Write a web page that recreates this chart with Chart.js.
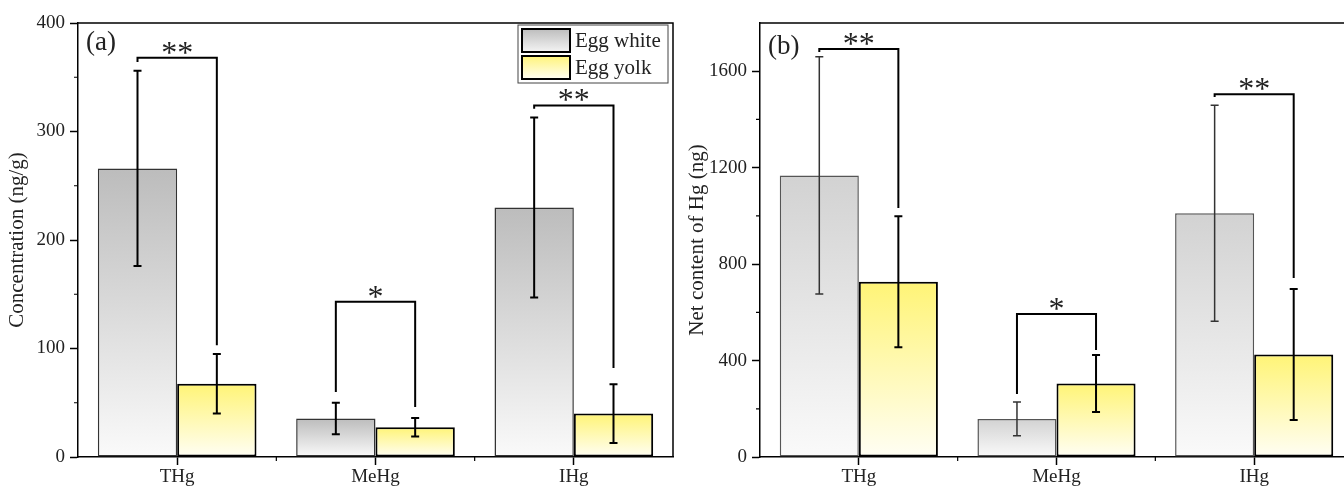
<!DOCTYPE html>
<html>
<head>
<meta charset="utf-8">
<script src="https://cdn.jsdelivr.net/npm/chart.js@4"></script>
<style>
html, body { margin: 0; padding: 0; background: #fff; overflow: hidden; width: 1344px; height: 489px; }
.panel { position: absolute; top: 0; width: 680px; height: 489px; }
#wrapA { left: 0; }
#wrapB { left: 680px; }
</style>
</head>
<body>
<div class="panel" id="wrapA"><canvas id="chartA" width="680" height="489"></canvas></div>
<div class="panel" id="wrapB"><canvas id="chartB" width="680" height="489"></canvas></div>
<script>
const categories = ["THg", "MeHg", "IHg"];
const seriesNames = ["Egg white", "Egg yolk"];
const stars = ["**", "*", "**"];

// (a) concentration, ng/g
const concWhite = [266, 35.5, 230];
const concWhiteErr = [90, 14.5, 83];
const concYolk = [67.5, 27.5, 40];
const concYolkErr = [27.5, 8.5, 27];
const concTicks = [0, 100, 200, 300, 400];
// significance brackets: bracket level, left leg end, right leg end
const concBracket = [368, 143, 324];
const concLegLeft = [364, 60, 321];
const concLegRight = [103, 46, 82];

// (b) net content, ng
const netWhite = [1168, 158, 1011];
const netWhiteErr = [492, 70, 448];
const netYolk = [727, 305, 425];
const netYolkErr = [272, 118, 272];
const netTicks = [0, 400, 800, 1200, 1600];
const netBracket = [1692, 593, 1505];
const netLegLeft = [1680, 261, 1493];
const netLegRight = [1033, 444, 742];

const SERIF = "'Liberation Serif', 'Times New Roman', serif";

function fade(topColor, bottomColor) {
    return ctx => {
        const chart = ctx.chart;
        if (!chart.chartArea || ctx.type !== "data") return topColor;
        const y = chart.scales.y;
        const y0 = y.getPixelForValue(ctx.raw);
        const y1 = y.getPixelForValue(0);
        const g = chart.ctx.createLinearGradient(0, y0, 0, y1);
        g.addColorStop(0, topColor);
        g.addColorStop(1, bottomColor);
        return g;
    };
}

const overlay = {
    id: "overlay",
    afterDatasetsDraw(chart, args, opts) {
        const c = chart.ctx, x = chart.scales.x, y = chart.scales.y, a = chart.chartArea;
        c.save();
        c.lineCap = "butt";

        // top and right frame
        c.strokeStyle = "#000";
        c.lineWidth = 1.5;
        c.beginPath();
        c.moveTo(a.left, a.top);
        c.lineTo(a.right, a.top);
        c.lineTo(a.right, a.bottom);
        c.stroke();

        // minor ticks
        c.lineWidth = 1.2;
        c.beginPath();
        for (let i = 0; i < opts.ticks.length - 1; i++) {
            const py = y.getPixelForValue((opts.ticks[i] + opts.ticks[i + 1]) / 2);
            c.moveTo(a.left - 4, py);
            c.lineTo(a.left, py);
        }
        for (let i = 0; i < categories.length - 1; i++) {
            const px = (x.getPixelForValue(i) + x.getPixelForValue(i + 1)) / 2;
            c.moveTo(px, a.bottom);
            c.lineTo(px, a.bottom + 4);
        }
        c.stroke();

        // error bars
        opts.errors.forEach((errs, di) => {
            const meta = chart.getDatasetMeta(di);
            const vals = chart.data.datasets[di].data;
            c.strokeStyle = opts.errColors[di];
            c.lineWidth = opts.errWidths[di];
            meta.data.forEach((bar, i) => {
                const hi = y.getPixelForValue(vals[i] + errs[i]);
                const lo = y.getPixelForValue(vals[i] - errs[i]);
                c.beginPath();
                c.moveTo(bar.x, hi); c.lineTo(bar.x, lo);
                c.moveTo(bar.x - 4, hi); c.lineTo(bar.x + 4, hi);
                c.moveTo(bar.x - 4, lo); c.lineTo(bar.x + 4, lo);
                c.stroke();
            });
        });

        // significance brackets
        const m0 = chart.getDatasetMeta(0), m1 = chart.getDatasetMeta(1);
        c.strokeStyle = "#000";
        c.lineWidth = 2;
        c.fillStyle = "#222";
        c.font = "32px " + SERIF;
        c.textAlign = "center";
        c.textBaseline = "alphabetic";
        opts.bracket.forEach((lvl, i) => {
            const xl = m0.data[i].x, xr = m1.data[i].x;
            const yb = y.getPixelForValue(lvl);
            c.beginPath();
            c.moveTo(xl, y.getPixelForValue(opts.legLeft[i]));
            c.lineTo(xl, yb);
            c.lineTo(xr, yb);
            c.lineTo(xr, y.getPixelForValue(opts.legRight[i]));
            c.stroke();
            const m = c.measureText(stars[i]);
            c.fillText(stars[i], (xl + xr) / 2, yb - 4 - m.actualBoundingBoxDescent);
        });

        // panel label
        c.font = "27px " + SERIF;
        c.textAlign = "left";
        c.textBaseline = "middle";
        c.fillText(opts.label, a.left + 8, a.top + opts.labelDy);

        // legend
        if (opts.legend) {
            const right = a.right - 5, left = right - 150, top = a.top + 2;
            c.strokeStyle = "#444";
            c.lineWidth = 1;
            c.strokeRect(left, top, right - left, 58);
            const swatches = [["#bdbdbd", "#f4f4f4"], ["#fff47a", "#fffef2"]];
            seriesNames.forEach((name, i) => {
                const sy = top + 4 + i * 27;
                const g = c.createLinearGradient(0, sy, 0, sy + 23);
                g.addColorStop(0, swatches[i][0]);
                g.addColorStop(1, swatches[i][1]);
                c.fillStyle = g;
                c.fillRect(left + 4, sy, 48, 23);
                c.strokeStyle = "#000";
                c.lineWidth = 2;
                c.strokeRect(left + 4, sy, 48, 23);
                c.fillStyle = "#222";
                c.font = "21px " + SERIF;
                c.fillText(name, left + 57, sy + 12);
            });
        }
        c.restore();
    }
};

function makeChart(id, cfg) {
    return new Chart(document.getElementById(id), {
        type: "bar",
        data: {
            labels: categories,
            datasets: [
                {
                    label: seriesNames[0],
                    data: cfg.white,
                    backgroundColor: fade(cfg.whiteTop, "#fafafa"),
                    borderColor: cfg.whiteBorder,
                    borderWidth: 1.5,
                    borderSkipped: false
                },
                {
                    label: seriesNames[1],
                    data: cfg.yolk,
                    backgroundColor: fade("#fff476", "#fffef4"),
                    borderColor: "#000",
                    borderWidth: 2,
                    borderSkipped: false
                }
            ]
        },
        options: {
            responsive: false,
            animation: false,
            layout: { padding: { top: 23, right: 7, left: 0, bottom: 0 } },
            datasets: { bar: { barPercentage: 1, categoryPercentage: 0.8 } },
            plugins: {
                legend: { display: false },
                tooltip: { enabled: false },
                overlay: {
                    ticks: cfg.ticks,
                    errors: [cfg.whiteErr, cfg.yolkErr],
                    errColors: cfg.errColors,
                    errWidths: cfg.errWidths,
                    bracket: cfg.bracket,
                    legLeft: cfg.legLeft,
                    legRight: cfg.legRight,
                    label: cfg.label,
                    labelDy: cfg.labelDy,
                    legend: cfg.legend
                }
            },
            scales: {
                x: {
                    grid: { display: true, offset: false, drawOnChartArea: false, tickLength: 8, tickColor: "#000", tickWidth: 1.5 },
                    border: { display: true, color: "#000", width: 1.5 },
                    ticks: { color: "#222", font: { family: SERIF, size: 19 }, padding: 1 },
                    afterFit: s => { s.height = 32; }
                },
                y: {
                    min: 0,
                    max: cfg.max,
                    afterBuildTicks: s => { s.ticks = cfg.ticks.map(v => ({ value: v })); },
                    grid: { display: true, drawOnChartArea: false, tickLength: 8, tickColor: "#000", tickWidth: 1.5 },
                    border: { display: true, color: "#000", width: 1.5 },
                    ticks: { color: "#222", font: { family: SERIF, size: 19 }, padding: 5, callback: v => String(v) },
                    title: { display: true, text: cfg.title, color: "#222", font: { family: SERIF, size: 21 }, padding: { top: 5, bottom: 0 } },
                    afterFit: s => { s.width = cfg.yWidth; }
                }
            }
        },
        plugins: [overlay]
    });
}

makeChart("chartA", {
    white: concWhite, whiteErr: concWhiteErr, yolk: concYolk, yolkErr: concYolkErr,
    ticks: concTicks, max: 400, bracket: concBracket, legLeft: concLegLeft, legRight: concLegRight,
    whiteTop: "#bcbcbc", whiteBorder: "#333", errColors: ["#000", "#000"], errWidths: [2, 2],
    title: "Concentration (ng/g)", label: "(a)", labelDy: 20, legend: true, yWidth: 78
});

makeChart("chartB", {
    white: netWhite, whiteErr: netWhiteErr, yolk: netYolk, yolkErr: netYolkErr,
    ticks: netTicks, max: 1800, bracket: netBracket, legLeft: netLegLeft, legRight: netLegRight,
    whiteTop: "#d2d2d2", whiteBorder: "#555", errColors: ["#333", "#000"], errWidths: [1.5, 2],
    title: "Net content of Hg (ng)", label: "(b)", labelDy: 24, legend: false, yWidth: 80
});
</script>
</body>
</html>
